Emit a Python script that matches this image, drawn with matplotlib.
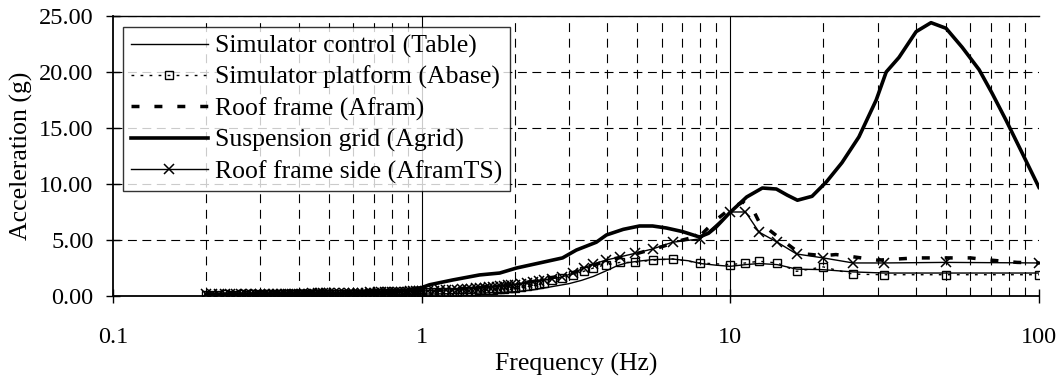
import matplotlib
matplotlib.use('Agg')
import matplotlib.pyplot as plt
from matplotlib.ticker import LogLocator, FixedLocator, FixedFormatter, NullFormatter

plt.rcParams['font.family'] = ['Liberation Serif', 'DejaVu Serif']

# frequencies with markers (Abase, AframTS)
f_mark = [0.20, 0.21, 0.22, 0.23, 0.24, 0.25, 0.26, 0.27, 0.28, 0.29,
          0.30, 0.31, 0.32, 0.33, 0.34, 0.35, 0.36, 0.37, 0.38, 0.39,
          0.40, 0.41, 0.42, 0.43, 0.44, 0.45, 0.46, 0.47, 0.48, 0.49, 0.50,
          0.52, 0.54, 0.56, 0.58, 0.60, 0.62, 0.64, 0.66, 0.68, 0.70, 0.72, 0.74,
          0.76, 0.78, 0.80, 0.82, 0.84, 0.86, 0.88, 0.90, 0.92, 0.94, 0.96, 0.98, 1.00,
          1.05, 1.10, 1.15, 1.20, 1.25, 1.30, 1.35, 1.40, 1.45, 1.50,
          1.55, 1.60, 1.65, 1.70, 1.75, 1.80, 1.85, 1.90, 1.95, 2.00,
          2.10, 2.20, 2.30, 2.40, 2.50, 2.65, 2.85, 3.10, 3.35, 3.60, 3.95, 4.40, 4.90,
          5.60, 6.50, 8.00, 10.0, 11.2, 12.4, 14.2, 16.4, 20.0, 25.0, 31.5, 50.0, 100.0]

abase = [0.12, 0.13, 0.12, 0.14, 0.13, 0.12, 0.14, 0.13, 0.15, 0.14,
         0.13, 0.15, 0.14, 0.13, 0.15, 0.16, 0.14, 0.15, 0.16, 0.15,
         0.17, 0.16, 0.15, 0.17, 0.18, 0.16, 0.17, 0.18, 0.17, 0.19, 0.18,
         0.19, 0.18, 0.20, 0.19, 0.21, 0.20, 0.22, 0.21, 0.23, 0.22, 0.24, 0.23,
         0.25, 0.24, 0.26, 0.25, 0.27, 0.26, 0.28, 0.29, 0.28, 0.30, 0.29, 0.31, 0.32,
         0.33, 0.34, 0.36, 0.37, 0.39, 0.40, 0.42, 0.44, 0.46, 0.48,
         0.50, 0.52, 0.55, 0.57, 0.60, 0.62, 0.65, 0.68, 0.71, 0.75,
         0.82, 0.90, 0.98, 1.08, 1.18, 1.40, 1.60, 1.90, 2.20, 2.50, 2.80, 3.00, 3.00,
         3.20, 3.30, 2.95, 2.80, 2.95, 3.10, 2.95, 2.20, 2.60, 1.95, 1.90, 1.90, 1.90]

aframts = [0.15, 0.16, 0.15, 0.17, 0.16, 0.15, 0.17, 0.16, 0.18, 0.17,
           0.18, 0.17, 0.19, 0.18, 0.20, 0.19, 0.18, 0.20, 0.21, 0.20,
           0.22, 0.21, 0.20, 0.22, 0.23, 0.22, 0.24, 0.23, 0.25, 0.24, 0.26,
           0.27, 0.26, 0.28, 0.27, 0.29, 0.30, 0.29, 0.31, 0.32, 0.31, 0.33, 0.34,
           0.33, 0.35, 0.36, 0.35, 0.37, 0.38, 0.39, 0.40, 0.41, 0.42, 0.43, 0.44, 0.45,
           0.47, 0.49, 0.51, 0.53, 0.55, 0.57, 0.60, 0.62, 0.65, 0.68,
           0.71, 0.74, 0.77, 0.80, 0.83, 0.86, 0.90, 0.94, 0.98, 1.02,
           1.10, 1.18, 1.26, 1.34, 1.42, 1.55, 1.70, 2.05, 2.50, 2.85, 3.20, 3.50, 3.80,
           4.20, 4.80, 5.10, 7.50, 7.50, 5.70, 4.80, 3.75, 3.40, 2.95, 2.95, 3.00, 2.95]

f_table = [0.2, 0.3, 0.4, 0.5, 0.6, 0.7, 0.8, 0.9, 1.0, 1.2, 1.5, 1.8, 2.0, 2.3, 2.6,
           3.0, 3.3, 3.6, 4.0, 4.3, 4.6, 5.0, 5.6, 6.5, 7.3, 8.0, 9.0, 10.0, 11.2,
           12.4, 14.2, 16.4, 20.0, 25.0, 31.5, 50.0, 100.0]
table = [0.08, 0.09, 0.10, 0.11, 0.12, 0.13, 0.14, 0.15, 0.17, 0.20, 0.25, 0.32, 0.38, 0.55, 0.80,
         1.10, 1.40, 1.75, 2.30, 2.70, 2.95, 3.10, 3.25, 3.30, 3.15, 2.90, 2.75, 2.65, 2.80,
         2.90, 2.80, 2.40, 2.35, 2.15, 2.05, 2.05, 2.05]

f_afram = [0.2, 0.3, 0.4, 0.5, 0.6, 0.7, 0.8, 0.9, 1.0, 1.2, 1.5, 1.8, 2.0, 2.3, 2.6,
           3.0, 3.5, 4.0, 4.5, 5.0, 6.0, 7.0, 8.0, 9.0, 10.0, 11.0, 12.0, 12.4, 14.4,
           16.8, 20.0, 22.0, 25.0, 30.0, 40.0, 60.0, 70.0, 85.0, 100.0]
afram = [0.18, 0.20, 0.22, 0.25, 0.28, 0.31, 0.35, 0.40, 0.45, 0.55, 0.75, 0.95, 1.10, 1.30, 1.60,
         1.95, 2.60, 3.20, 3.50, 3.80, 4.40, 5.00, 5.40, 6.80, 7.80, 8.40, 7.40, 6.60, 5.20,
         3.80, 3.60, 3.70, 3.50, 3.20, 3.40, 3.40, 3.20, 3.00, 2.95]

f_agrid = [0.2, 0.3, 0.4, 0.5, 0.6, 0.7, 0.8, 0.9, 1.0, 1.06, 1.26, 1.54, 1.79, 2.03, 2.41,
           2.86, 3.17, 3.68, 3.97, 4.5, 5.08, 5.6, 6.21, 7.0, 7.94, 8.5, 9.0, 9.93, 11.3,
           12.7, 14.1, 15.3, 16.5, 18.4, 20.5, 23.0, 26.1, 29.7, 32.0, 35.2, 40.0, 44.7,
           50.0, 56.4, 64.0, 70.5, 78.2, 88.1, 100.0]
agrid = [0.15, 0.18, 0.20, 0.22, 0.26, 0.30, 0.38, 0.50, 0.75, 1.00, 1.43, 1.88, 2.05, 2.50, 2.95,
         3.40, 4.10, 4.80, 5.45, 5.95, 6.25, 6.25, 6.07, 5.75, 5.27, 5.60, 6.16, 7.40, 8.84,
         9.64, 9.55, 9.00, 8.55, 8.90, 10.2, 11.9, 14.2, 17.5, 20.0, 21.3, 23.6, 24.4,
         23.9, 22.2, 20.2, 18.1, 15.7, 12.8, 9.7]

labels = ['Simulator control (Table)', 'Simulator platform (Abase)', 'Roof frame (Afram)',
          'Suspension grid (Agrid)', 'Roof frame side (AframTS)']

fig = plt.figure(figsize=(10.62, 3.79), dpi=100)
ax = fig.add_axes([0.1064, 0.219, 0.8719, 0.7389])

ax.plot(f_table, table, color='k', lw=1.0, label=labels[0], zorder=3)
ax.plot(f_mark, abase, color='k', lw=1.0, ls=(0, (2, 4.5)), marker='s', ms=6,
        mfc='none', mec='k', mew=1.0, label=labels[1], zorder=3)
ax.plot(f_afram, afram, color='k', lw=2.5, dashes=(2.3, 4.3), label=labels[2], zorder=3)
ax.plot(f_agrid, agrid, color='k', lw=2.6, label=labels[3], zorder=4)
ax.plot(f_mark, aframts, color='k', lw=1.0, marker='x', ms=7, mew=1.1,
        label=labels[4], zorder=4)

ax.set_xscale('log')
ax.set_xlim(0.1, 100)
ax.set_ylim(0, 25)

ax.xaxis.set_major_locator(FixedLocator([0.1, 1, 10, 100]))
ax.xaxis.set_major_formatter(FixedFormatter(['0.1', '1', '10', '100']))
ax.xaxis.set_minor_locator(LogLocator(base=10, subs=[2, 3, 4, 5, 6, 7, 8, 9]))
ax.xaxis.set_minor_formatter(NullFormatter())
ax.set_yticks([0, 5, 10, 15, 20, 25])
ax.set_yticklabels(['%.2f' % v for v in [0, 5, 10, 15, 20, 25]])

# grid
ax.grid(True, axis='y', which='major', color='k', lw=0.8, ls=(0, (8, 5)))
ax.grid(True, axis='x', which='minor', color='k', lw=0.8, ls=(0, (8, 6)))
for xv in [1, 10]:
    ax.axvline(xv, color='k', lw=0.8, zorder=1)

ax.spines['right'].set_visible(False)
for s in ['left', 'bottom']:
    ax.spines[s].set_linewidth(1.3)
ax.spines['top'].set_linewidth(1.0)

ax.tick_params(axis='both', which='major', direction='inout', length=10, width=1.0,
               labelsize=17.5, color='k')
ax.tick_params(axis='y', pad=9)
ax.tick_params(axis='x', pad=17)
ax.tick_params(axis='x', which='minor', length=0)

ax.set_xlabel('Frequency (Hz)', fontsize=18.5, labelpad=4)
ax.set_ylabel('Acceleration (g)', fontsize=18.5, labelpad=4)

leg = ax.legend(loc='upper left', bbox_to_anchor=(0.0108, 0.9607), borderaxespad=0,
                fontsize=18.5, frameon=True, fancybox=False, edgecolor='k',
                handlelength=3.0, handletextpad=0.3, borderpad=0.3, labelspacing=0.31)
leg.get_frame().set_linewidth(1.0)
leg.set_zorder(10)

fig.savefig('out.png', dpi=100)
